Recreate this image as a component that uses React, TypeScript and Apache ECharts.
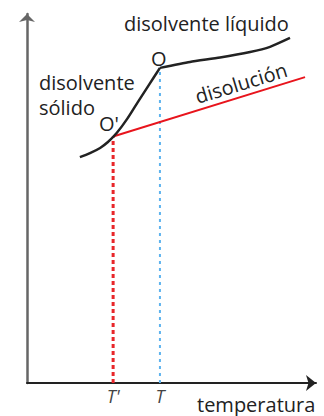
import React, { useEffect, useRef } from "react";
import * as echarts from "echarts";

// Curve of the pure solvent, solid branch (temperature, vapour pressure)
const solidT = [18.3, 21.8, 25.3, 28.0, 31.1, 34.6, 38.4, 42.2, 46.0];
const solidP = [61.2, 62.3, 63.7, 65.3, 67.8, 71.5, 76.2, 80.8, 85.4];
// Pure solvent, liquid branch
const liquidT = [46.0, 56.4, 66.8, 77.2, 84.1, 91.0];
const liquidP = [85.4, 87.0, 88.2, 89.7, 91.1, 93.5];
// Solution line
const solutionT = [29.8, 96.2];
const solutionP = [66.8, 82.9];
// Freezing points: T' (solution) and T (pure solvent)
const tickValues = [29.8, 46.0];
const tickLabels = ["T'", "T"];
const tickTops = [66.8, 85.4];

const FONT = "'Open Sans', sans-serif";

export default function App() {
  const ref = useRef<HTMLDivElement>(null);
  useEffect(() => {
    if (!ref.current) return;
    const chart = echarts.init(ref.current, null, { renderer: "svg" });
    const zip = (a: number[], b: number[]) => a.map((v, i) => [v, b[i]]);
    const txt = (text: string, x: number, y: number, extra: any = {}) => ({
      type: "text",
      x,
      y,
      style: {
        text,
        fill: "#222",
        font: `20px ${FONT}`,
        textVerticalAlign: "bottom",
        ...extra,
      },
      z: 10,
    });
    chart.setOption({
      animation: false,
      backgroundColor: "#fff",
      grid: { left: 27, right: 8, top: 14, bottom: 33 },
      xAxis: {
        type: "value",
        min: 0,
        max: 100,
        splitLine: { show: false },
        axisTick: { show: false },
        axisLine: {
          lineStyle: { color: "#222", width: 2 },
          symbol: ["none", "arrow"],
          symbolSize: [12, 10],
        },
        axisLabel: {
          customValues: tickValues,
          formatter: (v: number) => {
            const i = tickValues.indexOf(v);
            return i >= 0 ? tickLabels[i] : "";
          },
          color: "#444",
          fontStyle: "italic",
          fontFamily: FONT,
          fontSize: 18,
          margin: 4,
        },
      },
      yAxis: {
        type: "value",
        min: 0,
        max: 100,
        splitLine: { show: false },
        axisTick: { show: false },
        axisLabel: { show: false },
        axisLine: {
          lineStyle: { color: "#666", width: 2.5 },
          symbol: ["none", "arrow"],
          symbolSize: [12, 8],
        },
      },
      series: [
        {
          type: "line",
          data: [
            [tickValues[0], 0],
            [tickValues[0], tickTops[0]],
          ],
          symbol: "none",
          lineStyle: { color: "#e8262a", width: 3, type: [4, 3] },
          z: 1,
        },
        {
          type: "line",
          data: [
            [tickValues[1], 0],
            [tickValues[1], tickTops[1]],
          ],
          symbol: "none",
          lineStyle: { color: "#5db3ee", width: 2, type: [3, 4] },
          z: 1,
        },
        {
          type: "line",
          data: zip(solutionT, solutionP),
          symbol: "none",
          lineStyle: { color: "#e8141c", width: 2 },
          z: 2,
        },
        {
          type: "line",
          data: zip(solidT, solidP),
          symbol: "none",
          smooth: 0.3,
          lineStyle: { color: "#222", width: 2.5 },
          z: 3,
        },
        {
          type: "line",
          data: zip(liquidT, liquidP),
          symbol: "none",
          smooth: 0.2,
          lineStyle: { color: "#222", width: 2.5 },
          z: 3,
        },
      ],
      graphic: [
        txt("disolvente líquido", 124, 33),
        txt("O", 151, 68),
        txt("disolvente", 39, 92),
        txt("sólido", 39, 117),
        txt("O'", 99, 133),
        txt("temperatura", 197, 414),
        {
          type: "text",
          x: 241,
          y: 83,
          rotation: (17 * Math.PI) / 180,
          style: {
            text: "disolución",
            fill: "#222",
            font: `20px ${FONT}`,
            textAlign: "center",
            textVerticalAlign: "middle",
          },
          z: 10,
        },
      ],
    });
    return () => chart.dispose();
  }, []);
  return (
    <div
      ref={ref}
      style={{ position: "fixed", left: 0, top: 0, width: 324, height: 416, background: "#fff" }}
    />
  );
}
